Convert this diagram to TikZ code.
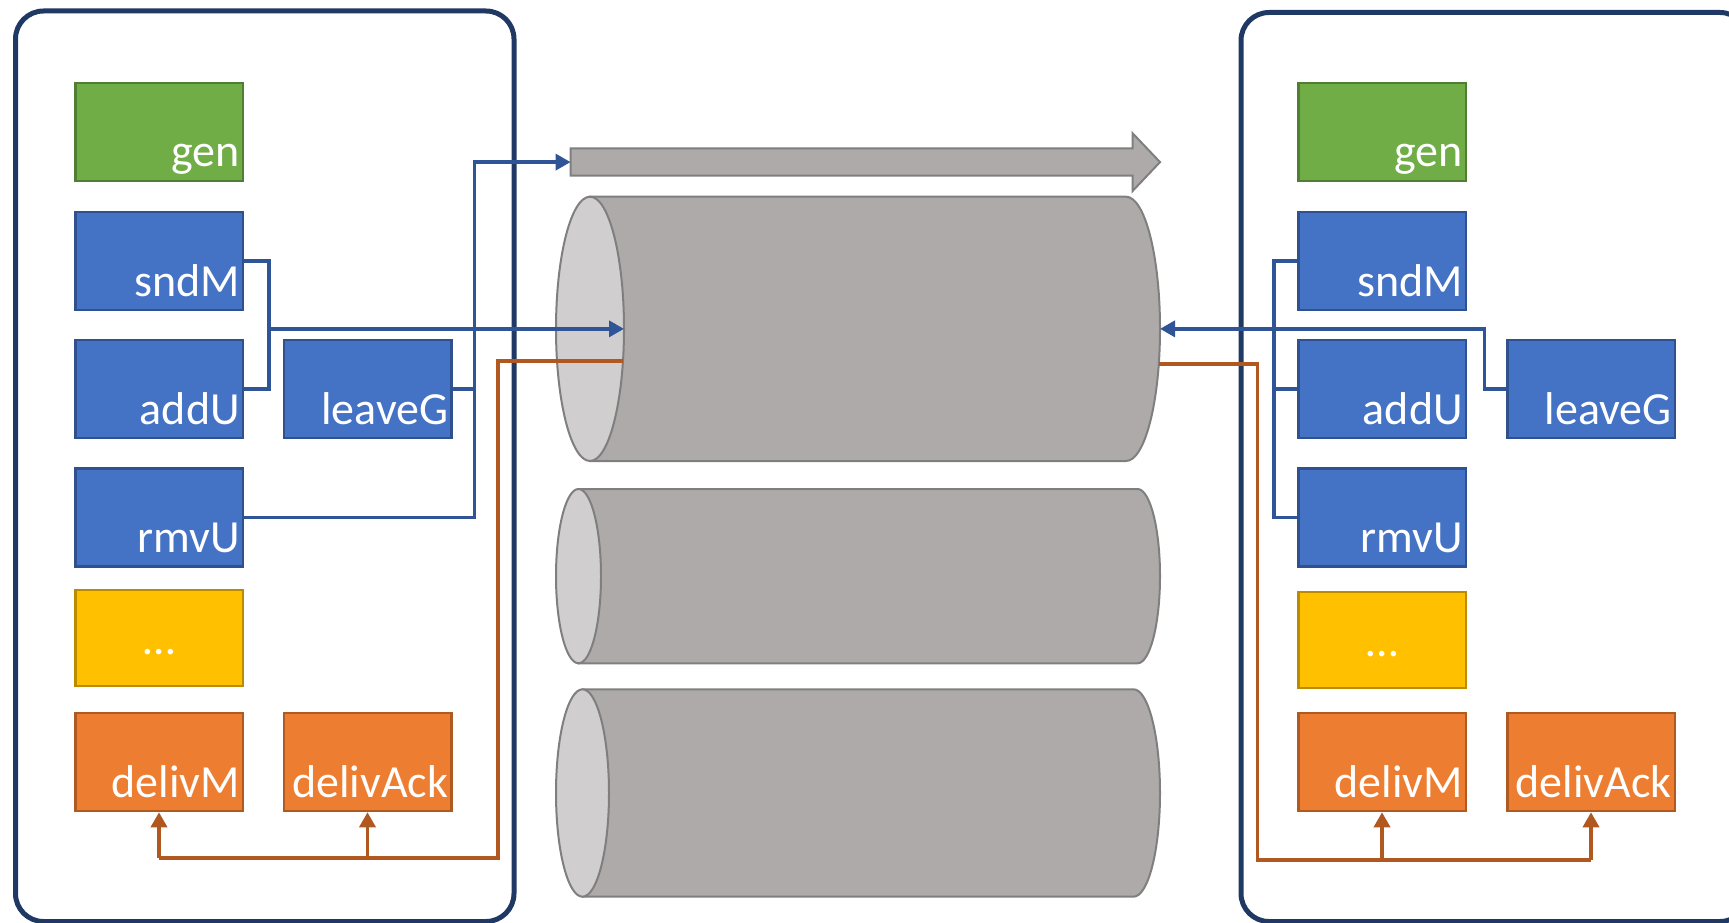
\documentclass[tikz,border=0pt]{standalone}
\usepackage{fontspec}
\setmainfont{Carlito}
\usetikzlibrary{arrows.meta}

\definecolor{frame}{HTML}{203864}
\definecolor{gfill}{HTML}{70AD47}\definecolor{gline}{HTML}{507E32}
\definecolor{bfill}{HTML}{4472C4}\definecolor{bline}{HTML}{2F528F}
\definecolor{yfill}{HTML}{FFC000}\definecolor{yline}{HTML}{BC8C00}
\definecolor{ofill}{HTML}{ED7D31}\definecolor{oline}{HTML}{AE5A21}
\definecolor{conblue}{HTML}{2F5597}
\definecolor{conorange}{HTML}{B0581F}
\definecolor{pipebody}{HTML}{AEAAAA}
\definecolor{pipeface}{HTML}{D0CECE}
\definecolor{pipeline}{HTML}{7F7F7F}

\begin{document}
\begin{tikzpicture}[x=1pt,y=-1pt,
  blk/.style={draw, line width=2.5pt, inner xsep=3pt, inner ysep=0pt,
    text width=161.5pt, align=right, text height=84pt, text depth=14pt,
    text=white, font=\fontsize{46}{50}\selectfont},
  grn/.style={blk, fill=gfill, draw=gline},
  blu/.style={blk, fill=bfill, draw=bline},
  ylw/.style={blk, fill=yfill, draw=yline, align=center, text height=64pt, text depth=32pt},
  org/.style={blk, fill=ofill, draw=oline},
  host/.style={draw=frame, line width=5pt, rounded corners=28pt},
  pipe/.style={fill=pipebody, draw=pipeline, line width=2pt},
  pipefront/.style={fill=pipeface, draw=pipeline, line width=2pt},
  bl/.style={draw=conblue, line width=3.5pt},
  og/.style={draw=conorange, line width=3.5pt},
  tip/.style={-{Triangle[length=15pt,width=16pt]}}
]
\useasboundingbox (0,0) rectangle (1729,923);
\clip (0,0) rectangle (1729,923);

% the two hosts
\draw[host] (15.5,11) rectangle (514,921.5);
\draw[host] (1241,12.5) rectangle (1748,921.5);

% flow direction arrow
\filldraw[pipe] (570.6,148.3) -- (1132.6,148.3) -- (1132.6,133.3) -- (1160,162.1)
  -- (1132.6,191) -- (1132.6,175.7) -- (570.6,175.7) -- cycle;
\coordinate (flowtail) at (570.6,162.1);

% channels (horizontal cylinders)
\filldraw[pipe] (590,196.7) -- (1126,196.7)
  arc[start angle=-90,end angle=90,x radius=34,y radius=132.15] -- (590,461) -- cycle;
\filldraw[pipefront] (590,328.85) ellipse [x radius=34, y radius=132.15];
\filldraw[pipe] (578.5,489) -- (1137.5,489)
  arc[start angle=-90,end angle=90,x radius=22.5,y radius=87.15] -- (578.5,663.3) -- cycle;
\filldraw[pipefront] (578.5,576.15) ellipse [x radius=22.5, y radius=87.15];
\filldraw[pipe] (582.5,689.3) -- (1133.5,689.3)
  arc[start angle=-90,end angle=90,x radius=26.5,y radius=103.7] -- (582.5,896.7) -- cycle;
\filldraw[pipefront] (582.5,793) ellipse [x radius=26.5, y radius=103.7];

\coordinate (c1in) at (624,328.85);
\coordinate (c1out) at (1160,328.85);
\coordinate (c1inL) at (623,361);
\coordinate (c1outR) at (1159,364);

% left host
\node[grn] (lgen)   at (159,132)   {gen};
\node[blu] (lsnd)   at (159,261)   {sndM};
\node[blu] (ladd)   at (159,389)   {addU};
\node[blu] (lleave) at (367.5,389) {leaveG};
\node[blu] (lrmv)   at (159,517.5) {rmvU};
\node[ylw] (ldots)  at (159,638)   {…};
\node[org] (ldm)    at (159,762)   {delivM};
\node[org] (lda)    at (367.5,762) {delivAck};

% right host
\node[grn] (rgen)   at (1382,132)  {gen};
\node[blu] (rsnd)   at (1382,261)  {sndM};
\node[blu] (radd)   at (1382,389)  {addU};
\node[blu] (rleave) at (1591,389)  {leaveG};
\node[blu] (rrmv)   at (1382,517.5){rmvU};
\node[ylw] (rdots)  at (1382,640)  {…};
\node[org] (rdm)    at (1382,762)  {delivM};
\node[org] (rda)    at (1591,762)  {delivAck};

% left host: sends into the channel
\coordinate (lbus) at (269,328.85);
\coordinate (lctl) at (474.5,162.1);
\draw[bl] (lsnd.east) -| (lbus) |- (ladd.east);
\draw[bl,tip] (lbus) -- (c1in);
\draw[bl] (lleave.east) -- (lleave.east -| lctl);
\draw[bl,tip] (lrmv.east) -| (lctl) -- (flowtail);

% left host: deliveries out of the channel
\coordinate (lout) at (498,858);
\draw[og] (c1inL) -| (lout) -- (lout -| ldm.south);
\draw[og,tip] (ldm.south |- lout) -- (ldm.south);
\draw[og,tip] (lda.south |- lout) -- (lda.south);

% right host: sends into the channel
\coordinate (rbus) at (1274,328.85);
\coordinate (rctl) at (1484.6,328.85);
\draw[bl] (rsnd.west) -| (rbus) |- (rrmv.west);
\draw[bl] (radd.west) -- (radd.west -| rbus);
\draw[bl,tip] (rleave.west) -| (rctl) -- (c1out);

% right host: deliveries out of the channel
\coordinate (rout) at (1257.7,860);
\draw[og] (c1outR) -| (rout) -- (rout -| rda.south);
\draw[og,tip] (rdm.south |- rout) -- (rdm.south);
\draw[og,tip] (rda.south |- rout) -- (rda.south);
\end{tikzpicture}
\end{document}
